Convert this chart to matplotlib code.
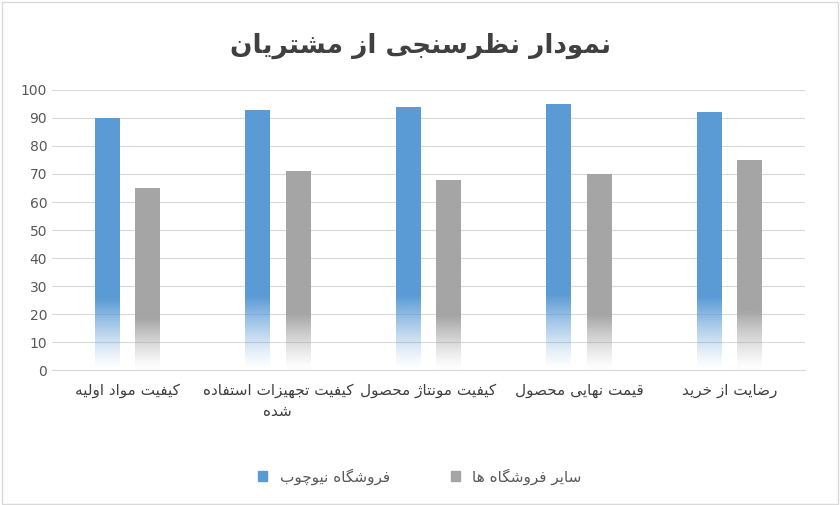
import matplotlib
matplotlib.use("Agg")
import matplotlib.pyplot as plt
import numpy as np
from matplotlib.patches import Rectangle
from matplotlib.colors import to_rgb

categories = ["کیفیت مواد اولیه", "کیفیت تجهیزات استفاده\nشده", "کیفیت مونتاژ محصول", "قیمت نهایی محصول", "رضایت از خرید"]
series_names = ["فروشگاه نیوچوب", "سایر فروشگاه ها"]
s1 = [90, 93, 94, 95, 92]
s2 = [65, 71, 68, 70, 75]
title = "نمودار نظرسنجی از مشتریان"

F = {'ا':(0xFE8D,0xFE8E,None,None),'آ':(0xFE81,0xFE82,None,None),'ب':(0xFE8F,0xFE90,0xFE91,0xFE92),'پ':(0xFB56,0xFB57,0xFB58,0xFB59),
'ت':(0xFE95,0xFE96,0xFE97,0xFE98),'ث':(0xFE99,0xFE9A,0xFE9B,0xFE9C),'ج':(0xFE9D,0xFE9E,0xFE9F,0xFEA0),'چ':(0xFB7A,0xFB7B,0xFB7C,0xFB7D),
'ح':(0xFEA1,0xFEA2,0xFEA3,0xFEA4),'خ':(0xFEA5,0xFEA6,0xFEA7,0xFEA8),'د':(0xFEA9,0xFEAA,None,None),'ذ':(0xFEAB,0xFEAC,None,None),
'ر':(0xFEAD,0xFEAE,None,None),'ز':(0xFEAF,0xFEB0,None,None),'ژ':(0xFB8A,0xFB8B,None,None),'س':(0xFEB1,0xFEB2,0xFEB3,0xFEB4),
'ش':(0xFEB5,0xFEB6,0xFEB7,0xFEB8),'ص':(0xFEB9,0xFEBA,0xFEBB,0xFEBC),'ض':(0xFEBD,0xFEBE,0xFEBF,0xFEC0),'ط':(0xFEC1,0xFEC2,0xFEC3,0xFEC4),
'ظ':(0xFEC5,0xFEC6,0xFEC7,0xFEC8),'ع':(0xFEC9,0xFECA,0xFECB,0xFECC),'غ':(0xFECD,0xFECE,0xFECF,0xFED0),'ف':(0xFED1,0xFED2,0xFED3,0xFED4),
'ق':(0xFED5,0xFED6,0xFED7,0xFED8),'ک':(0xFB8E,0xFB8F,0xFB90,0xFB91),'گ':(0xFB92,0xFB93,0xFB94,0xFB95),'ل':(0xFEDD,0xFEDE,0xFEDF,0xFEE0),
'م':(0xFEE1,0xFEE2,0xFEE3,0xFEE4),'ن':(0xFEE5,0xFEE6,0xFEE7,0xFEE8),'ه':(0xFEE9,0xFEEA,0xFEEB,0xFEEC),'و':(0xFEED,0xFEEE,None,None),
'ی':(0xFBFC,0xFBFD,0xFBFE,0xFBFF)}

def shape(text):
    out_lines = []
    for line in text.split("\n"):
        res = []
        n = len(line)
        for i, c in enumerate(line):
            if c not in F:
                res.append(c); continue
            iso, fin, ini, med = F[c]
            prev = line[i-1] if i > 0 else None
            nxt = line[i+1] if i < n-1 else None
            jp = prev in F and F[prev][2] is not None
            jn = nxt in F and ini is not None
            if jp and jn: g = med
            elif jp: g = fin
            elif jn: g = ini
            else: g = iso
            res.append(chr(g))
        out_lines.append("".join(res)[::-1])
    return "\n".join(out_lines)

fig = plt.figure(figsize=(8.4, 5.05), dpi=100)
fig.patches.append(Rectangle((0.002, 0.002), 0.996, 0.994, transform=fig.transFigure, fill=False, edgecolor="#D9D9D9", lw=1))
ax = fig.add_axes([0.062, 0.267, 0.896, 0.555])
x = np.arange(len(categories))
w = 0.165

def grad_bars(xs, vals, color):
    r, g, b = to_rgb(color)
    t = np.linspace(0, 1, 256)[:, None]
    alpha = np.clip(t / 0.28, 0, 1) ** 1.3
    img = np.zeros((256, 1, 4)); img[..., 0] = r; img[..., 1] = g; img[..., 2] = b; img[..., 3] = alpha
    bars = ax.bar(xs, vals, w, color="none", edgecolor="none")
    for bar in bars:
        x0 = bar.get_x(); h = bar.get_height()
        im = ax.imshow(img, extent=[x0, x0 + w, 0, h], origin="lower", aspect="auto", zorder=2)
        im.set_clip_path(bar)
    return bars

grad_bars(x - 0.135, s1, "#5B9BD5")
grad_bars(x + 0.135, s2, "#A5A5A5")
ax.set_xlim(-0.5, len(categories) - 0.5)
ax.set_ylim(0, 100)
ax.set_yticks(range(0, 101, 10))
ax.yaxis.grid(True, color="#D9D9D9", lw=0.8)
ax.set_axisbelow(True)
for s in ["top", "right", "left"]:
    ax.spines[s].set_visible(False)
ax.spines["bottom"].set_color("#D9D9D9")
ax.tick_params(axis="both", length=0, colors="#595959", labelsize=10)
ax.tick_params(axis="x", pad=9)
ax.set_xticks(x)
ax.set_xticklabels([shape(c) for c in categories], fontsize=11, color="#404040", va="top", linespacing=1.5)

fig.text(0.5, 0.91, shape(title), ha="center", va="center", fontsize=19, fontweight="bold", color="#404040")
h1 = Rectangle((0, 0), 1, 1, color="#5B9BD5")
h2 = Rectangle((0, 0), 1, 1, color="#A5A5A5")
fig.legend([h1, h2], [shape(s) for s in series_names], loc="center", bbox_to_anchor=(0.5, 0.057), ncol=2,
           frameon=False, fontsize=11, handlelength=0.6, handleheight=0.6, columnspacing=4, labelcolor="#595959")
fig.savefig("out.png", dpi=100)
